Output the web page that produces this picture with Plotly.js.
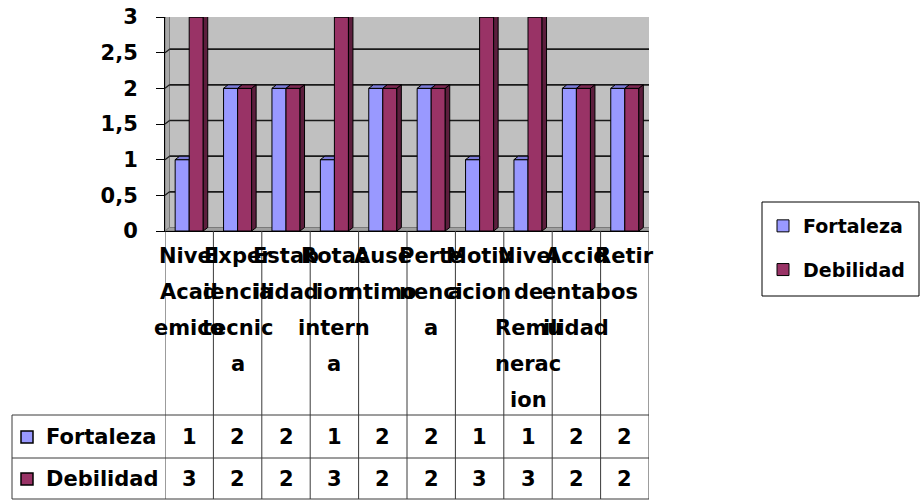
<!DOCTYPE html>
<html>
<head>
<meta charset="utf-8">
<script src="https://cdn.plot.ly/plotly-3.0.1.min.js"></script>
<style>html,body{margin:0;padding:0;background:#fff}</style>
</head>
<body>
<div id="chart" style="width:922px;height:500px"></div>
<script>
// Categories (full names) and how each name wraps inside its narrow column
const categories = ['Nivel Academico', 'Experiencia tecnica', 'Estabilidad', 'Rotacion interna',
  'Ausentimo', 'Pertenencia', 'Motivacion', 'Nivel de Remuneracion', 'Accidentabilidad', 'Retiros'];
const labelLines = [
  ['Nivel', 'Acad', 'emico'],
  ['Exper', 'iencia', 'tecnic', 'a'],
  ['Estab', 'ilidad'],
  ['Rotac', 'ion', 'intern', 'a'],
  ['Ause', 'ntimo'],
  ['Perte', 'nenci', 'a'],
  ['Motiv', 'acion'],
  ['Nivel', 'de', 'Remu', 'nerac', 'ion'],
  ['Accid', 'entab', 'ilidad'],
  ['Retir', 'os']
];
const seriesNames = ['Fortaleza', 'Debilidad'];
const fortaleza = [1, 2, 2, 1, 2, 2, 1, 1, 2, 2];
const debilidad = [3, 2, 2, 3, 2, 2, 3, 3, 2, 2];
const yTicks = [0, 0.5, 1, 1.5, 2, 2.5, 3];

// ---- styling / geometry ----
const W = 922, H = 500;
const FONT = 'DejaVu Sans, sans-serif';
const plotL = 165, plotR = 649, plotT = 17, plotB = 231;
const pxPerCat = (plotR - plotL) / categories.length;
const pxPerUnit = (plotB - plotT) / 3;
const DX = 4.5 / pxPerCat;     // depth offset (category units)
const DY = 3.5 / pxPerUnit;    // depth offset (value units)
const BAR_W = 0.29;
const colors = {
  front: ['#9999FF', '#993366'],
  top: ['#7C7CDA', '#7D2953'],
  side: ['#6666B8', '#5C1E3D']
};
const py = p => 1 - p / H;   // pixel row -> paper y
const pxX = p => p / W;      // pixel column -> paper x

const xs = categories.map((_, i) => i);
const series = [fortaleza, debilidad];

const traces = series.map((vals, s) => ({
  type: 'bar',
  x: xs,
  y: vals,
  name: seriesNames[s],
  legendgroup: seriesNames[s],
  marker: { color: colors.front[s], line: { color: '#000', width: 1 } },
  hoverinfo: 'x+y'
}));

const shapes = [];
const n = categories.length;
const x0 = -0.5, x1 = n - 0.5;

// back wall, left wall and floor
shapes.push({ type: 'rect', xref: 'x', yref: 'y', layer: 'below',
  x0: x0 + DX, x1: x1 + DX, y0: DY, y1: 3 + DY,
  fillcolor: '#C0C0C0', line: { color: '#8C8C8C', width: 1 } });
shapes.push({ type: 'path', xref: 'x', yref: 'y', layer: 'below',
  path: `M${x0},0 L${x0 + DX},${DY} L${x0 + DX},${3 + DY} L${x0},3 Z`,
  fillcolor: '#A9A9A9', line: { color: '#7A7A7A', width: 1 } });
shapes.push({ type: 'path', xref: 'x', yref: 'y', layer: 'below',
  path: `M${x0},0 L${x1},0 L${x1 + DX},${DY} L${x0 + DX},${DY} Z`,
  fillcolor: '#A0A0A0', line: { color: '#7A7A7A', width: 1 } });

// gridlines on the back and side walls
yTicks.forEach(t => {
  if (t === 0) return;
  shapes.push({ type: 'line', xref: 'x', yref: 'y', layer: 'below',
    x0: x0 + DX, x1: x1 + DX, y0: t + DY, y1: t + DY,
    line: { color: '#1A1A1A', width: 1.6 } });
  shapes.push({ type: 'line', xref: 'x', yref: 'y', layer: 'below',
    x0: x0, x1: x0 + DX, y0: t, y1: t + DY,
    line: { color: '#1A1A1A', width: 1.2 } });
});

// top and side faces of the bars
xs.forEach(i => {
  const vb = fortaleza[i], vr = debilidad[i];
  const bL = i - BAR_W, bR = i;          // blue front face
  const rL = i, rR = i + BAR_W;          // red front face
  // blue top face (the red bar in front hides its right tip when taller)
  const blueTop = vr >= vb + DY
    ? `M${bL},${vb} L${bL + DX},${vb + DY} L${bR},${vb + DY} L${bR},${vb} Z`
    : `M${bL},${vb} L${bL + DX},${vb + DY} L${bR + DX},${vb + DY} L${bR},${vb} Z`;
  shapes.push({ type: 'path', xref: 'x', yref: 'y', path: blueTop,
    fillcolor: colors.top[0], line: { color: '#000', width: 1 } });
  if (vb > vr) {
    shapes.push({ type: 'path', xref: 'x', yref: 'y',
      path: `M${bR},${vr} L${bR + DX},${vr + DY} L${bR + DX},${vb + DY} L${bR},${vb} Z`,
      fillcolor: colors.side[0], line: { color: '#000', width: 1 } });
  }
  shapes.push({ type: 'path', xref: 'x', yref: 'y',
    path: `M${rL},${vr} L${rL + DX},${vr + DY} L${rR + DX},${vr + DY} L${rR},${vr} Z`,
    fillcolor: colors.top[1], line: { color: '#000', width: 1 } });
  shapes.push({ type: 'path', xref: 'x', yref: 'y',
    path: `M${rR},0 L${rR + DX},${DY} L${rR + DX},${vr + DY} L${rR},${vr} Z`,
    fillcolor: colors.side[1], line: { color: '#000', width: 1 } });
});

// data table grid
const gridColor = '#3A3A3A';
const tableTop = 415, rowMid = 458, tableBottom = 499, tableLeft = 12;
for (let k = 0; k <= n; k++) {
  shapes.push({ type: 'line', xref: 'x', yref: 'paper',
    x0: k - 0.5, x1: k - 0.5, y0: py(tableBottom), y1: py(plotB),
    line: { color: gridColor, width: 1 } });
}
[tableTop, rowMid, tableBottom].forEach(r => {
  shapes.push({ type: 'line', xref: 'paper', yref: 'paper',
    x0: pxX(tableLeft), x1: pxX(plotR), y0: py(r), y1: py(r),
    line: { color: gridColor, width: 1 } });
});
shapes.push({ type: 'line', xref: 'paper', yref: 'paper',
  x0: pxX(tableLeft), x1: pxX(tableLeft), y0: py(tableBottom), y1: py(tableTop),
  line: { color: gridColor, width: 1 } });

// frame around the legend
shapes.push({ type: 'rect', xref: 'paper', yref: 'paper',
  x0: pxX(762), x1: pxX(919), y0: py(296), y1: py(202),
  fillcolor: 'rgba(0,0,0,0)', line: { color: '#000', width: 1 } });

const annotations = [];
const rowCenters = [437, 479];
const catFont = { family: FONT, size: 21, color: '#000', weight: 'bold' };

// series keys in the table's first column
seriesNames.forEach((name, s) => {
  const c = rowCenters[s];
  shapes.push({ type: 'rect', xref: 'paper', yref: 'paper',
    x0: pxX(21), x1: pxX(33), y0: py(c + 6), y1: py(c - 6),
    fillcolor: colors.front[s], line: { color: '#000', width: 1.5 } });
  annotations.push({ xref: 'paper', yref: 'paper', x: pxX(44), y: py(c),
    xanchor: 'left', yanchor: 'middle', showarrow: false,
    text: name, font: catFont });
  series[s].forEach((v, i) => {
    annotations.push({ xref: 'x', yref: 'paper', x: i, y: py(c),
      xanchor: 'center', yanchor: 'middle', showarrow: false,
      text: String(v), font: catFont });
  });
});

// wrapped category names under the floor
const lineCenters = [256, 292, 328, 364, 400];
labelLines.forEach((lines, i) => {
  lines.forEach((t, j) => {
    annotations.push({ xref: 'x', yref: 'paper', x: i, y: py(lineCenters[j]),
      xanchor: 'center', yanchor: 'middle', showarrow: false,
      text: t, font: catFont });
  });
});

const layout = {
  width: W, height: H,
  margin: { l: 0, r: 0, t: 0, b: 0 },
  paper_bgcolor: '#fff', plot_bgcolor: 'rgba(0,0,0,0)',
  separators: ',.',
  barmode: 'group', bargap: 1 - 2 * BAR_W, bargroupgap: 0,
  font: { family: FONT, color: '#000' },
  xaxis: {
    domain: [pxX(plotL), pxX(plotR)], range: [x0, x1],
    showticklabels: false, ticks: '', showgrid: false, zeroline: false,
    showline: true, linecolor: '#000', linewidth: 1, fixedrange: true
  },
  yaxis: {
    domain: [py(plotB), py(plotT)], range: [0, 3],
    tickvals: yTicks, ticks: 'outside', ticklen: 8, tickcolor: '#000', tickwidth: 1,
    ticklabelstandoff: 14,
    tickfont: { family: FONT, size: 21, color: '#000', weight: 'bold' },
    showgrid: false, zeroline: false,
    showline: true, linecolor: '#000', linewidth: 1, fixedrange: true
  },
  showlegend: true,
  legend: {
    x: pxX(763), y: py(207), xanchor: 'left', yanchor: 'top',
    borderwidth: 0, bgcolor: 'rgba(0,0,0,0)',
    traceorder: 'grouped', tracegroupgap: 16,
    font: { family: FONT, size: 19, color: '#000', weight: 'bold' }
  },
  shapes: shapes,
  annotations: annotations
};

Plotly.newPlot('chart', traces, layout, { displayModeBar: false, staticPlot: true });
</script>
</body>
</html>
